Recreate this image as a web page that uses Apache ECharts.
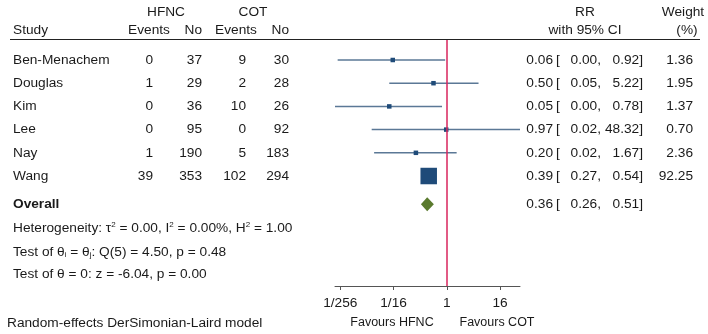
<!DOCTYPE html>
<html>
<head>
<meta charset="utf-8">
<script src="https://cdn.jsdelivr.net/npm/echarts@6/dist/echarts.min.js"></script>
<style>
  html, body { margin: 0; padding: 0; background: #fff; }
  #chart { width: 708px; height: 334px; }
</style>
</head>
<body>
<div id="chart"></div>
<script>
// study data
const studies = ['Ben-Menachem', 'Douglas', 'Kim', 'Lee', 'Nay', 'Wang']
const hfncEvents = [0, 1, 0, 0, 1, 39]
const hfncTotal = [37, 29, 36, 95, 190, 353]
const cotEvents = [9, 2, 10, 0, 5, 102]
const cotTotal = [30, 28, 26, 92, 183, 294]
const rr = [0.06, 0.50, 0.05, 0.97, 0.20, 0.39]
const rrLow = [0.0034, 0.05, 0.0029, 0.02, 0.0227, 0.27]
const rrHigh = [0.92, 5.22, 0.78, 48.32, 1.67, 0.54]
const weights = [1.36, 1.95, 1.37, 0.70, 2.36, 92.25]
// overall: estimate, lower, upper
const overallRR = [0.36, 0.26, 0.51]
const xTicks = [1 / 256, 1 / 16, 1, 16]
const xTickLabels = ['1/256', '1/16', '1', '16']

const FONT = '"Liberation Sans", Arial, sans-serif'
const FS = 13.7
const TXT = '#1a1a1a'
const OVERALL_ROW = 6.22

const chart = echarts.init(document.getElementById('chart'))

// table cells: [x, row, text, align, bold]
const cells = []
studies.forEach((s, i) => {
  cells.push([13, i, s, 'left'])
  cells.push([153, i, String(hfncEvents[i]), 'right'])
  cells.push([202, i, String(hfncTotal[i]), 'right'])
  cells.push([246, i, String(cotEvents[i]), 'right'])
  cells.push([289, i, String(cotTotal[i]), 'right'])
  cells.push([553, i, rr[i].toFixed(2), 'right'])
  cells.push([556, i, '[', 'left'])
  cells.push([601, i, rrLow[i].toFixed(2) + ',', 'right'])
  cells.push([643, i, rrHigh[i].toFixed(2) + ']', 'right'])
  cells.push([693, i, weights[i].toFixed(2), 'right'])
})
cells.push([13, OVERALL_ROW, 'Overall', 'left', true])
cells.push([553, OVERALL_ROW, overallRR[0].toFixed(2), 'right'])
cells.push([556, OVERALL_ROW, '[', 'left'])
cells.push([601, OVERALL_ROW, overallRR[1].toFixed(2) + ',', 'right'])
cells.push([643, OVERALL_ROW, overallRR[2].toFixed(2) + ']', 'right'])

const maxW = Math.max(...weights)

function txt(x, y, text, align, size) {
  return {
    type: 'text',
    x: x,
    y: y,
    silent: true,
    style: {
      text: text,
      align: align || 'left',
      textAlign: align || 'left',
      verticalAlign: 'middle',
      textVerticalAlign: 'middle',
      fontSize: size || FS,
      fontFamily: FONT,
      fill: TXT
    }
  }
}

const rich = {
  sup: { fontSize: 8, fontFamily: FONT, fill: TXT, verticalAlign: 'top' },
  sub: { fontSize: 8, fontFamily: FONT, fill: TXT, verticalAlign: 'bottom' }
}
function richTxt(x, y, text) {
  const t = txt(x, y, text, 'left')
  t.style.rich = rich
  return t
}

chart.setOption({
  animation: false,
  grid: [
    { left: 335, width: 185, top: 40, bottom: 48 },
    { left: 0, right: 0, top: 40, bottom: 48 }
  ],
  xAxis: [
    {
      gridIndex: 0,
      type: 'value',
      min: -8.4,
      max: 5.5,
      splitLine: { show: false },
      axisLine: { show: true, onZero: false, lineStyle: { color: '#555', width: 1 } },
      axisTick: {
        show: true, length: 4, lineStyle: { color: '#555' },
        customValues: xTicks.map(v => Math.log2(v))
      },
      axisLabel: {
        show: true, margin: 10, color: TXT, fontSize: FS, fontFamily: FONT,
        customValues: xTicks.map(v => Math.log2(v)),
        formatter: v => xTickLabels[xTicks.findIndex(t => Math.abs(Math.log2(t) - v) < 1e-6)]
      }
    },
    { gridIndex: 1, type: 'value', min: 0, max: 708, show: false }
  ],
  yAxis: [
    { gridIndex: 0, type: 'value', inverse: true, min: -0.862, max: 9.74, show: false },
    { gridIndex: 1, type: 'value', inverse: true, min: -0.862, max: 9.74, show: false }
  ],
  series: [
    {
      // confidence intervals
      type: 'custom',
      xAxisIndex: 0,
      yAxisIndex: 0,
      clip: true,
      data: studies.map((s, i) => [Math.log2(rrLow[i]), Math.log2(rrHigh[i]), i]),
      renderItem: (params, api) => {
        const a = api.coord([api.value(0), api.value(2)])
        const b = api.coord([api.value(1), api.value(2)])
        return {
          type: 'line',
          shape: { x1: a[0], y1: a[1], x2: b[0], y2: b[1] },
          style: { stroke: '#5b7896', lineWidth: 1.5 }
        }
      },
      markLine: {
        silent: true,
        symbol: 'none',
        label: { show: false },
        lineStyle: { color: '#d8245c', width: 1.5, type: 'solid' },
        data: [{ xAxis: 0 }]
      },
      z: 2
    },
    {
      // point estimates
      type: 'scatter',
      xAxisIndex: 0,
      yAxisIndex: 0,
      symbol: 'rect',
      data: studies.map((s, i) => [Math.log2(rr[i]), i, weights[i]]),
      symbolSize: d => Math.max(4.5, 16.5 * Math.sqrt(d[2] / maxW)),
      itemStyle: { color: '#1f4b79', opacity: 1 },
      z: 3
    },
    {
      // overall diamond
      type: 'custom',
      xAxisIndex: 0,
      yAxisIndex: 0,
      data: [[Math.log2(overallRR[0]), Math.log2(overallRR[1]), Math.log2(overallRR[2]), OVERALL_ROW]],
      renderItem: (params, api) => {
        const c = api.coord([api.value(0), api.value(3)])
        const l = api.coord([api.value(1), api.value(3)])
        const r = api.coord([api.value(2), api.value(3)])
        const h = 7
        return {
          type: 'polygon',
          shape: { points: [[l[0], c[1]], [c[0], c[1] - h], [r[0], c[1]], [c[0], c[1] + h]] },
          style: { fill: '#5a7a2e' }
        }
      },
      z: 4
    },
    {
      // table text
      type: 'custom',
      xAxisIndex: 1,
      yAxisIndex: 1,
      clip: false,
      data: cells.map(c => [c[0], c[1]]),
      renderItem: (params, api) => {
        const c = cells[params.dataIndex]
        const p = api.coord([api.value(0), api.value(1)])
        return {
          type: 'text',
          x: p[0],
          y: p[1],
          style: {
            text: c[2],
            align: c[3],
            verticalAlign: 'middle',
            fontSize: FS,
            fontFamily: FONT,
            fontWeight: c[4] ? 'bold' : 'normal',
            fill: TXT
          }
        }
      },
      z: 5
    }
  ],
  graphic: [
    txt(166, 12, 'HFNC', 'center'),
    txt(253, 12, 'COT', 'center'),
    txt(585, 12, 'RR', 'center'),
    txt(683, 12, 'Weight', 'center'),
    txt(13, 30, 'Study', 'left'),
    txt(149, 30, 'Events', 'center'),
    txt(202, 30, 'No', 'right'),
    txt(236, 30, 'Events', 'center'),
    txt(289, 30, 'No', 'right'),
    txt(585, 30, 'with 95% CI', 'center'),
    txt(687, 30, '(%)', 'center'),
    {
      type: 'line',
      silent: true,
      shape: { x1: 10, y1: 39.5, x2: 700, y2: 39.5 },
      style: { stroke: '#222', lineWidth: 1 }
    },
    richTxt(13, 228, 'Heterogeneity: τ{sup|2} = 0.00, I{sup|2} = 0.00%, H{sup|2} = 1.00'),
    richTxt(13, 252, 'Test of θ{sub|i} = θ{sub|j}: Q(5) = 4.50, p = 0.48'),
    txt(13, 274, 'Test of θ = 0: z = -6.04, p = 0.00', 'left'),
    txt(7, 323, 'Random-effects DerSimonian-Laird model', 'left'),
    txt(392, 323, 'Favours HFNC', 'center', 12.5),
    txt(497, 323, 'Favours COT', 'center', 12.5)
  ]
})
</script>
</body>
</html>
